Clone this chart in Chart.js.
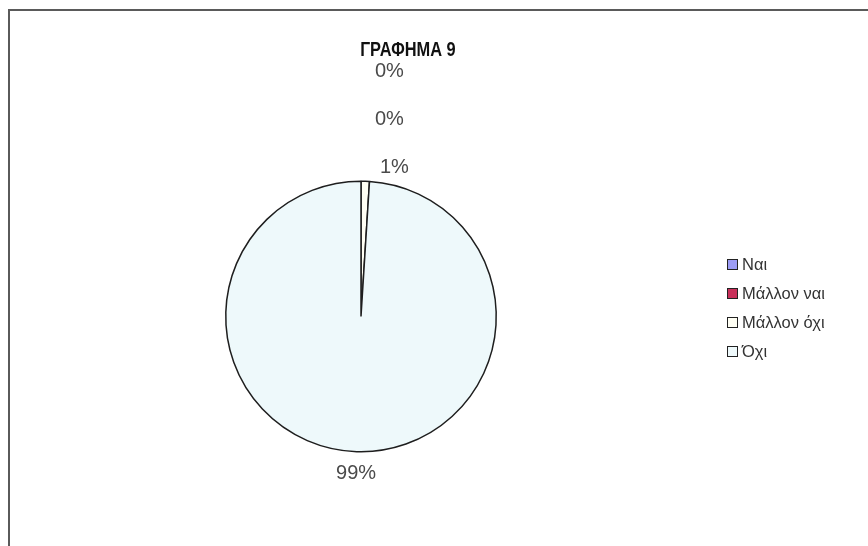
<!DOCTYPE html>
<html>
<head>
<meta charset="utf-8">
<script src="https://cdn.jsdelivr.net/npm/chart.js@4.4.1/dist/chart.umd.min.js"></script>
<style>
    html, body { margin: 0; padding: 0; background: #ffffff; }
    #wrap { position: relative; width: 868px; height: 546px; }
</style>
</head>
<body>
<div id="wrap"><canvas id="my-Pie-Chart" width="868" height="546"></canvas></div>
<script>
// data
const chartTitle = 'ΓΡΑΦΗΜΑ 9';
const categories = ['Ναι', 'Μάλλον ναι', 'Μάλλον όχι', 'Όχι'];
const values = [0, 0, 1, 99];
const colors = [
    '#9C9CF5', // Ναι
    '#C8305A', // Μάλλον ναι
    '#FFFFF4', // Μάλλον όχι
    '#EEF9FB'  // Όχι
];

const FONT = '"Liberation Sans", Arial, sans-serif';

// frame, title and legend drawn by hand (like the excel sheet)
const decorPlugin = {
    id: 'decor',
    afterDraw(chart) {
        const ctx = chart.ctx;
        ctx.save();
        // border
        ctx.strokeStyle = '#5a5a5a';
        ctx.lineWidth = 2;
        ctx.beginPath();
        ctx.moveTo(9, 546);
        ctx.lineTo(9, 10);
        ctx.lineTo(868, 10);
        ctx.stroke();

        // title (a bit narrow, like the original)
        ctx.save();
        ctx.translate(408, 56);
        ctx.scale(0.82, 1);
        ctx.fillStyle = '#111111';
        ctx.font = 'bold 20px ' + FONT;
        ctx.textAlign = 'center';
        ctx.textBaseline = 'alphabetic';
        ctx.fillText(chartTitle, 0, 0);
        ctx.restore();

        // legend
        ctx.font = '16.5px ' + FONT;
        ctx.textAlign = 'left';
        ctx.textBaseline = 'middle';
        categories.forEach((name, i) => {
            const y = 265 + i * 29;
            ctx.fillStyle = colors[i];
            ctx.fillRect(727.5, y - 5.5, 10, 10);
            ctx.strokeStyle = '#222222';
            ctx.lineWidth = 1;
            ctx.strokeRect(727.5, y - 5.5, 10, 10);
            ctx.fillStyle = '#333333';
            ctx.fillText(name, 742, y);
        });
        ctx.restore();
    }
};

// percent labels outside the slices
const percentPlugin = {
    id: 'percentLabels',
    afterDatasetsDraw(chart) {
        const ctx = chart.ctx;
        const meta = chart.getDatasetMeta(0);
        const total = values.reduce((a, b) => a + b, 0);
        const placed = [];
        ctx.save();
        ctx.font = '20px ' + FONT;
        ctx.fillStyle = '#4a4a4a';
        ctx.textBaseline = 'middle';
        // walk from last slice to first so the small ones stack upward
        for (let i = meta.data.length - 1; i >= 0; i--) {
            const arc = meta.data[i];
            const mid = (arc.startAngle + arc.endAngle) / 2;
            const r = arc.outerRadius + 22;
            let x = arc.x + Math.cos(mid) * r;
            let y = arc.y + Math.sin(mid) * r;
            let align = 'center';
            if (Math.sin(mid) < -0.9) { // near the top
                align = 'left';
                x += 14;
                y += 8;
            }
            // push up while overlapping a label already placed
            while (placed.some(p => Math.abs(p.y - y) < 30 && Math.abs(p.x - x) < 40)) {
                y -= 48;
            }
            placed.push({ x, y });
            ctx.textAlign = align;
            ctx.fillText(Math.round(values[i] / total * 100) + '%', x, y);
        }
        ctx.restore();
    }
};

function createPieChart() {
    const ctx = document.getElementById('my-Pie-Chart').getContext('2d');
    new Chart(ctx, {
        type: 'pie',
        data: {
            labels: categories,
            datasets: [{
                data: values,
                backgroundColor: colors,
                borderColor: '#1e1e1e',
                borderWidth: 1.5
            }]
        },
        options: {
            responsive: false,
            animation: false,
            layout: {
                padding: { top: 180, bottom: 93, left: 225, right: 371 }
            },
            plugins: {
                legend: { display: false },
                tooltip: { enabled: false }
            }
        },
        plugins: [percentPlugin, decorPlugin]
    });
}

createPieChart()
</script>
</body>
</html>
